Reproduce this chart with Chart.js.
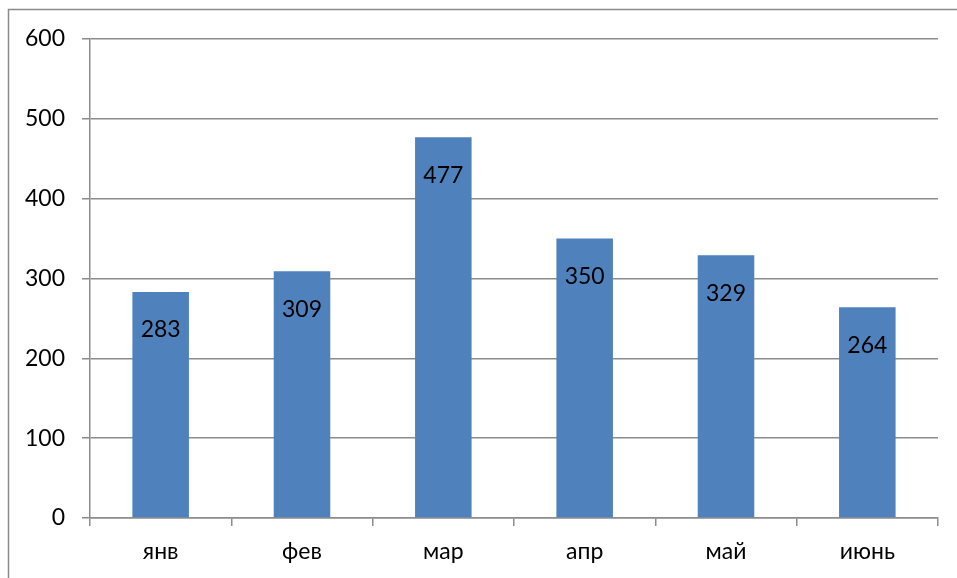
<!DOCTYPE html>
<html>
<head>
<meta charset="utf-8">
<script src="https://cdn.jsdelivr.net/npm/chart.js@4/dist/chart.umd.min.js"></script>
<style>
  html, body { margin: 0; padding: 0; background: #fff; }
  #wrap { width: 957px; height: 578px; }
</style>
</head>
<body>
<div id="wrap"><canvas id="chart"></canvas></div>
<script>
// Данные
const months = ['янв', 'фев', 'мар', 'апр', 'май', 'июнь'];
const values = [283, 309, 477, 350, 329, 264];
const yTicks = [0, 100, 200, 300, 400, 500, 600];

const gridColor = '#8c8c8c';
const fontFamily = 'Lato, "Open Sans", sans-serif';
const fontSize = 23;

// Рамка вокруг диаграммы и подписи значений
const framePlugin = {
    id: 'frame',
    beforeDraw(chart) {
        const ctx = chart.ctx;
        ctx.save();
        ctx.strokeStyle = '#8a8a8a';
        ctx.lineWidth = 1.5;
        ctx.strokeRect(8.5, 9.5, 1200, 1200);
        ctx.restore();
    },
    afterDatasetsDraw(chart) {
        const ctx = chart.ctx;
        const meta = chart.getDatasetMeta(0);
        ctx.save();
        ctx.fillStyle = '#000';
        ctx.font = fontSize + 'px ' + fontFamily;
        ctx.textAlign = 'center';
        ctx.textBaseline = 'middle';
        meta.data.forEach((bar, i) => {
            ctx.fillText(String(values[i]), bar.x, bar.y + 38);
        });
        ctx.restore();
    }
};

new Chart(document.getElementById('chart'), {
    type: 'bar',
    data: {
        labels: months,
        datasets: [{
            data: values,
            backgroundColor: '#4f81bd',
            borderWidth: 0,
            barPercentage: 0.4,
            categoryPercentage: 1.0
        }]
    },
    options: {
        responsive: true,
        maintainAspectRatio: false,
        animation: false,
        layout: { padding: { top: 39, right: 19, left: 0, bottom: 0 } },
        plugins: {
            legend: { display: false },
            tooltip: { enabled: false }
        },
        scales: {
            y: {
                min: 0,
                max: 600,
                afterBuildTicks(scale) {
                    scale.ticks = yTicks.map(v => ({ value: v }));
                },
                afterFit(scale) { scale.width = 90; },
                ticks: {
                    color: '#000',
                    padding: 17,
                    font: { family: fontFamily, size: fontSize }
                },
                grid: {
                    color: gridColor,
                    lineWidth: 1.5,
                    tickLength: 8
                },
                border: { color: gridColor, width: 1.5 }
            },
            x: {
                afterFit(scale) { scale.height = 60; },
                ticks: {
                    color: '#000',
                    padding: 12,
                    font: { family: fontFamily, size: fontSize }
                },
                grid: {
                    offset: true,
                    drawOnChartArea: false,
                    color: gridColor,
                    lineWidth: 1.5,
                    tickLength: 8
                },
                border: { color: gridColor, width: 1.5 }
            }
        }
    },
    plugins: [framePlugin]
});
</script>
</body>
</html>
